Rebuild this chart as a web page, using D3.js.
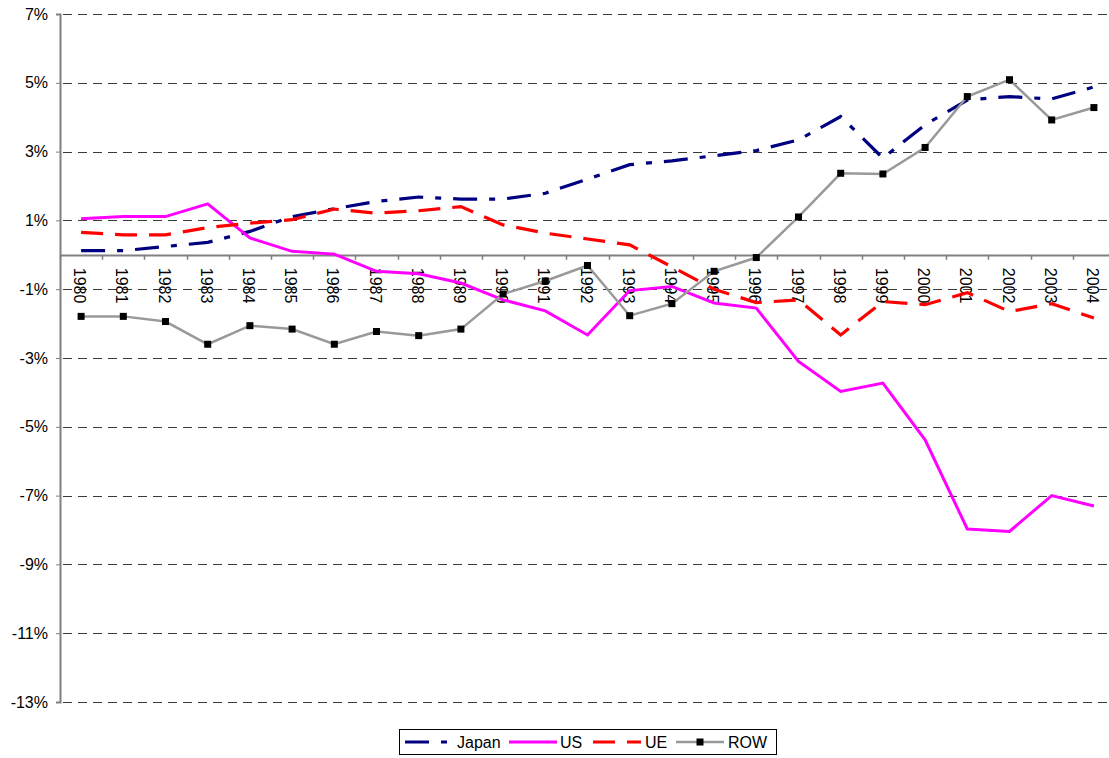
<!DOCTYPE html>
<html>
<head>
<meta charset="utf-8">
<script src="https://cdn.jsdelivr.net/npm/d3@7"></script>
<style>
  body { margin: 0; background: #fff; }
  text { font-family: "Liberation Sans", Arial, sans-serif; }
</style>
</head>
<body>
<div id="chart"></div>
<script>
// data (percent)
var years = ["1980","1981","1982","1983","1984","1985","1986","1987","1988","1989","1990","1991","1992",
             "1993","1994","1995","1996","1997","1998","1999","2000","2001","2002","2003","2004"];
var japan = [0.12, 0.12, 0.24, 0.36, 0.68, 1.11, 1.34, 1.55, 1.68, 1.62, 1.62, 1.79, 2.2,
             2.62, 2.73, 2.88, 3.03, 3.34, 4.02, 2.81, 3.78, 4.5, 4.6, 4.53, 4.88];
var us = [1.05, 1.11, 1.11, 1.48, 0.49, 0.1, 0.02, -0.48, -0.55, -0.82, -1.31, -1.63, -2.33,
          -1.04, -0.92, -1.4, -1.55, -3.1, -3.97, -3.73, -5.38, -7.97, -8.04, -7.0, -7.3];
var ue = [0.65, 0.58, 0.58, 0.79, 0.92, 1.02, 1.33, 1.21, 1.28, 1.4, 0.87, 0.63, 0.46,
          0.29, -0.35, -1.0, -1.39, -1.31, -2.33, -1.36, -1.45, -1.1, -1.65, -1.42, -1.84];
var row = [-1.79, -1.79, -1.94, -2.6, -2.06, -2.16, -2.6, -2.23, -2.35, -2.16, -1.14, -0.76, -0.31,
           -1.77, -1.42, -0.48, -0.08, 1.1, 2.37, 2.35, 3.12, 4.6, 5.09, 3.92, 4.28];
var yTicks = [7, 5, 3, 1, -1, -3, -5, -7, -9, -11, -13];

var width = 1109, height = 758;
var plot = {left: 60, right: 1115, top: 14, bottom: 702};

var svg = d3.select("#chart").append("svg")
  .attr("width", width)
  .attr("height", height);

var x = d3.scaleBand().domain(years).range([plot.left, plot.right]);
var y = d3.scaleLinear().domain([-13, 7]).range([plot.bottom, plot.top]);

// dashed gridlines
svg.append("g").selectAll("line")
  .data(yTicks)
  .enter().append("line")
  .attr("x1", plot.left + 3).attr("x2", width)
  .attr("y1", function(d) { return Math.round(y(d)) + 0.5; })
  .attr("y2", function(d) { return Math.round(y(d)) + 0.5; })
  .attr("stroke", "#3a3a3a")
  .attr("stroke-width", 1)
  .attr("stroke-dasharray", "9,6");

// y axis
var yAxis = svg.append("g")
  .attr("transform", "translate(" + plot.left + ",0)")
  .call(d3.axisLeft(y).tickValues(yTicks).tickSize(4).tickPadding(8)
        .tickFormat(function(d) { return d + "%"; }));
yAxis.select(".domain").attr("stroke", "#808080").attr("stroke-width", 2);
yAxis.selectAll(".tick line").attr("stroke", "#808080");
yAxis.selectAll("text").attr("font-size", "16px").attr("fill", "#000")
  .style("font-family", "'Liberation Sans', Arial, sans-serif");

// zero line with category ticks
var xAxis = svg.append("g")
  .attr("transform", "translate(0," + Math.round(y(0)) + ")")
  .call(d3.axisBottom(x).tickSize(0).tickFormat(""));
xAxis.select(".domain").attr("stroke", "#808080").attr("stroke-width", 2);
svg.append("g").selectAll("line")
  .data(years)
  .enter().append("line")
  .attr("x1", function(d) { return Math.round(x(d)) + 0.5; })
  .attr("x2", function(d) { return Math.round(x(d)) + 0.5; })
  .attr("y1", y(0)).attr("y2", y(0) + 5)
  .attr("stroke", "#808080").attr("stroke-width", 1.5);

// rotated year labels
svg.append("g").selectAll("text")
  .data(years)
  .enter().append("text")
  .attr("transform", function(d) {
    return "translate(" + (x(d) + x.bandwidth() / 2 - 1.5) + "," + (y(0) + 13) + ")rotate(90)";
  })
  .attr("dominant-baseline", "central")
  .style("font-size", "16px")
  .attr("fill", "#000")
  .text(function(d) { return d; });

var line = d3.line()
  .x(function(d, i) { return x(years[i]) + x.bandwidth() / 2; })
  .y(function(d) { return y(d); });

var series = [
  {name: "Japan", values: japan, color: "#000080", dash: "24,12,6,12", w: 3.2},
  {name: "US", values: us, color: "#ff00ff", dash: null, w: 3},
  {name: "UE", values: ue, color: "#ff0000", dash: "22,12", w: 3.2},
  {name: "ROW", values: row, color: "#999999", dash: null, w: 2.5}
];

series.forEach(function(s) {
  svg.append("path")
    .datum(s.values)
    .attr("d", line)
    .attr("fill", "none")
    .attr("stroke", s.color)
    .attr("stroke-width", s.w)
    .attr("stroke-dasharray", s.dash);
});

// ROW markers
svg.append("g").selectAll("rect")
  .data(row)
  .enter().append("rect")
  .attr("x", function(d, i) { return x(years[i]) + x.bandwidth() / 2 - 3.5; })
  .attr("y", function(d) { return y(d) - 3.5; })
  .attr("width", 7).attr("height", 7)
  .attr("fill", "#000");

// legend
var lg = svg.append("g");
lg.append("rect")
  .attr("x", 399.5).attr("y", 729.5)
  .attr("width", 377).attr("height", 25)
  .attr("fill", "#fff").attr("stroke", "#000");

var legendItems = [
  {s: series[0], x1: 405, x2: 448, tx: 457},
  {s: series[1], x1: 509, x2: 557, tx: 560},
  {s: series[2], x1: 593, x2: 641, tx: 645},
  {s: series[3], x1: 676, x2: 724, tx: 728}
];
legendItems.forEach(function(it) {
  lg.append("line")
    .attr("x1", it.x1).attr("x2", it.x2)
    .attr("y1", 742).attr("y2", 742)
    .attr("stroke", it.s.color)
    .attr("stroke-width", it.s.w)
    .attr("stroke-dasharray", it.s.dash);
  if (it.s.name == "ROW") {
    lg.append("rect")
      .attr("x", (it.x1 + it.x2) / 2 - 3.5).attr("y", 738.5)
      .attr("width", 7).attr("height", 7).attr("fill", "#000");
  }
  lg.append("text")
    .attr("x", it.tx).attr("y", 748)
    .attr("font-size", "16px")
    .attr("fill", "#000")
    .text(it.s.name);
});
</script>
</body>
</html>
